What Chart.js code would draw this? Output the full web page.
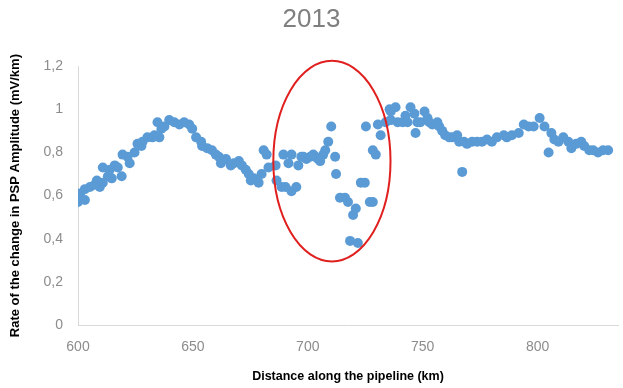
<!DOCTYPE html>
<html>
<head>
<meta charset="utf-8">
<script src="https://cdn.jsdelivr.net/npm/chart.js@4.4.0/dist/chart.umd.min.js"></script>
<style>
  html, body { margin: 0; padding: 0; background: #fff; }
  #wrap { width: 623px; height: 388px; position: relative; }
</style>
</head>
<body>
<div id="wrap"><canvas id="chart"></canvas></div>
<script>
// distance along the pipeline (km) and rate of change (mV/km)
const distanceKm = [
  600.0, 600.9, 603.0, 603.0, 605.2, 607.3, 608.2, 609.5, 610.8, 610.8,
  613.0, 613.8, 614.7, 616.0, 617.3, 619.0, 619.4, 621.6, 622.5, 624.6,
  625.9, 627.6, 628.1, 630.2, 632.4, 633.3, 634.6, 635.4, 636.3, 637.6,
  639.7, 641.9, 644.1, 646.2, 648.4, 649.7, 651.4, 653.6, 654.0, 656.2,
  658.3, 660.0, 661.3, 662.2, 664.4, 666.5, 667.8, 670.0, 671.3, 673.0,
  674.3, 675.2, 676.5, 678.6, 679.9, 680.8, 682.1, 682.9, 686.0, 686.4,
  688.6, 689.4, 690.3, 691.6, 692.9, 692.9, 695.0, 695.9, 697.2, 698.1,
  699.4, 701.1, 702.4, 703.2, 704.5, 705.4, 706.7, 707.6, 708.9, 710.2,
  711.9, 712.3, 714.0, 716.2, 717.5, 718.4, 719.7, 720.9, 721.8, 723.1,
  724.8, 725.3, 727.0, 728.3, 728.3, 729.6, 730.5, 731.7, 733.9, 735.6,
  736.1, 736.1, 738.2, 739.1, 741.3, 742.5, 743.4, 744.7, 746.4, 746.9,
  747.7, 749.0, 750.8, 752.1, 752.9, 754.2, 756.4, 757.2, 758.5, 759.8,
  761.6, 762.9, 765.0, 765.9, 767.2, 768.0, 769.3, 771.5, 773.7, 775.8,
  778.0, 780.1, 782.3, 785.3, 786.6, 788.8, 791.8, 794.0, 796.1, 798.3,
  800.9, 803.0, 804.8, 806.0, 807.3, 809.1, 811.2, 813.4, 814.7, 816.8,
  819.0, 820.3, 822.5, 824.2, 826.3, 828.5, 830.7
];
const rate = [
  0.57, 0.61, 0.58, 0.63, 0.64, 0.65, 0.67, 0.64, 0.66, 0.73,
  0.69, 0.72, 0.68, 0.74, 0.73, 0.69, 0.79, 0.78, 0.75, 0.80,
  0.84, 0.83, 0.85, 0.87, 0.87, 0.88, 0.94, 0.87, 0.91, 0.92,
  0.95, 0.94, 0.93, 0.94, 0.93, 0.91, 0.87, 0.85, 0.83, 0.82,
  0.81, 0.79, 0.78, 0.75, 0.77, 0.74, 0.75, 0.76, 0.74, 0.72,
  0.70, 0.67, 0.68, 0.66, 0.70, 0.81, 0.79, 0.73, 0.74, 0.67,
  0.64, 0.79, 0.64, 0.75, 0.79, 0.62, 0.64, 0.74, 0.78, 0.78,
  0.77, 0.78, 0.79, 0.78, 0.77, 0.76, 0.79, 0.81, 0.85, 0.92,
  0.78, 0.70, 0.59, 0.59, 0.57, 0.39, 0.51, 0.54, 0.38, 0.66,
  0.66, 0.92, 0.57, 0.57, 0.81, 0.79, 0.93, 0.88, 0.94, 1.00,
  0.99, 0.95, 1.01, 0.94, 0.94, 0.97, 0.94, 1.01, 0.98, 0.89,
  0.94, 0.94, 0.99, 0.96, 0.94, 0.93, 0.94, 0.92, 0.90, 0.88,
  0.87, 0.87, 0.88, 0.85, 0.71, 0.85, 0.84, 0.85, 0.85, 0.85,
  0.86, 0.85, 0.87, 0.88, 0.87, 0.88, 0.89, 0.93, 0.92, 0.92,
  0.96, 0.92, 0.80, 0.89, 0.86, 0.85, 0.87, 0.85, 0.82, 0.84,
  0.85, 0.83, 0.81, 0.81, 0.80, 0.81, 0.81
];

const xTicks = [600, 650, 700, 750, 800];
const yTicks = [0, 0.2, 0.4, 0.6, 0.8, 1, 1.2];

// red ring drawn round the anomaly (data units)
const ring = { cx: 710.5, cy: 0.76, rx: 25.5, ry: 0.465 };

const FONT = "'Liberation Sans', Arial, sans-serif";
const TICK_GREY = "#8c8c8c";
const AXIS_GREY = "#d9d9d9";

function commaDecimal(v) {
  return String(v).replace(".", ",");
}

const ringPlugin = {
  id: "ring",
  afterDatasetsDraw(chart) {
    const { ctx, scales: { x, y } } = chart;
    const cx = x.getPixelForValue(ring.cx);
    const cy = y.getPixelForValue(ring.cy);
    const rx = Math.abs(x.getPixelForValue(ring.cx + ring.rx) - cx);
    const ry = Math.abs(y.getPixelForValue(ring.cy + ring.ry) - cy);
    ctx.save();
    ctx.beginPath();
    ctx.ellipse(cx, cy, rx, ry, 0, 0, Math.PI * 2);
    ctx.strokeStyle = "#e0201f";
    ctx.lineWidth = 2;
    ctx.stroke();
    ctx.restore();
  }
};

const points = distanceKm.map((d, i) => ({ x: d, y: rate[i] }));

new Chart(document.getElementById("chart").getContext("2d"), {
  type: "scatter",
  data: {
    datasets: [{
      data: points,
      backgroundColor: "#5b9bd5",
      borderColor: "#5b9bd5",
      borderWidth: 0,
      pointRadius: 5
    }]
  },
  options: {
    responsive: true,
    maintainAspectRatio: false,
    animation: false,
    layout: { padding: 0 },
    plugins: {
      legend: { display: false },
      tooltip: { enabled: false },
      title: {
        display: true,
        text: "2013",
        color: "#7f7f7f",
        font: { family: FONT, size: 26, weight: "normal" },
        padding: { top: 4, bottom: 31 }
      }
    },
    scales: {
      x: {
        type: "linear",
        min: 600,
        max: 835,
        afterBuildTicks: axis => { axis.ticks = xTicks.map(v => ({ value: v })); },
        afterFit: s => { s.height = 63; },
        grid: { display: false, drawTicks: false },
        border: { display: true, color: AXIS_GREY, width: 1 },
        ticks: { color: TICK_GREY, font: { family: FONT, size: 14 }, padding: 14, maxRotation: 0 },
        title: {
          display: true,
          text: "Distance along the pipeline (km)",
          color: "#000",
          font: { family: FONT, size: 12.5, weight: "bold" },
          padding: { top: 0, bottom: 4 }
        }
      },
      y: {
        min: 0,
        max: 1.2,
        afterBuildTicks: axis => { axis.ticks = yTicks.map(v => ({ value: v })); },
        afterFit: s => { s.width = 78; },
        grid: { display: false, drawTicks: false },
        border: { display: true, color: AXIS_GREY, width: 1 },
        ticks: { color: TICK_GREY, font: { family: FONT, size: 14 }, padding: 15, callback: v => commaDecimal(v) },
        title: {
          display: true,
          text: "Rate of the change in PSP Amplitude (mV/km)",
          color: "#000",
          font: { family: FONT, size: 13, weight: "bold" },
          padding: { top: 8, bottom: 0 }
        }
      }
    }
  },
  plugins: [ringPlugin]
});
</script>
</body>
</html>
